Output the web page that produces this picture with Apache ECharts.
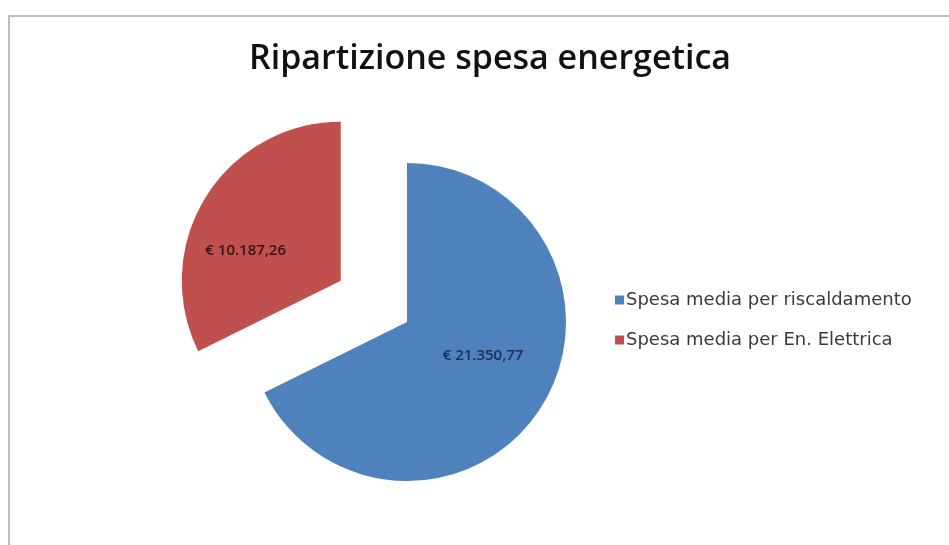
<!DOCTYPE html>
<html>
<head>
<meta charset="utf-8">
<script src="https://cdn.jsdelivr.net/npm/echarts@6/dist/echarts.min.js"></script>
<style>
html,body{margin:0;padding:0;background:#fff;}
#main{width:949px;height:545px;}
</style>
</head>
<body>
<div id="main"></div>
<script>
const titleText = 'Ripartizione spesa energetica';
const categories = ['Spesa media per riscaldamento', 'Spesa media per En. Elettrica'];
const values = [21350.77, 10187.26];
const colors = ['#4F81BD', '#C0504D'];
const labelColors = ['#1c2f52', '#3b1210'];
const labelPads = [[0, 0, 0, 12], [0, 50, 0, 0]];
const explodedIndex = 1;

function fmtEuro(v) {
  const parts = v.toFixed(2).split('.');
  const intPart = parts[0].replace(/\B(?=(\d{3})+(?!\d))/g, '.');
  return '€ ' + intPart + ',' + parts[1];
}

const chart = echarts.init(document.getElementById('main'));
const data = categories.map((c, i) => ({
  name: c,
  value: values[i],
  selected: i === explodedIndex,
  itemStyle: { color: colors[i] },
  select: { itemStyle: { color: colors[i] } },
  label: {
    color: labelColors[i],
    padding: labelPads[i],
    lineHeight: i === 0 ? 20 : 26,
    formatter: p => (i === 0 ? fmtEuro(p.value) + '\n ' : ' \n' + fmtEuro(p.value))
  }
}));

chart.setOption({
  animation: false,
  backgroundColor: '#fff',
  graphic: [{
    type: 'rect',
    shape: { x: 9, y: 16, width: 1000, height: 600 },
    style: { fill: 'none', stroke: '#bdbdbd', lineWidth: 2 },
    silent: true
  }],
  title: {
    text: titleText,
    left: 485,
    textAlign: 'center',
    top: 37,
    textStyle: { fontFamily: 'Open Sans', fontSize: 34, fontWeight: 600, color: '#111' }
  },
  legend: {
    orient: 'vertical',
    left: 610,
    top: 286,
    itemWidth: 9,
    itemHeight: 9,
    itemGap: 22,
    icon: 'rect',
    data: categories,
    textStyle: { fontFamily: 'DejaVu Sans', fontSize: 18, color: '#3a3a3a', padding: [0, 0, 0, -3] }
  },
  series: [{
    type: 'pie',
    center: [407, 322],
    radius: [0, 159],
    startAngle: 90,
    clockwise: true,
    selectedMode: 'single',
    selectedOffset: 78,
    avoidLabelOverlap: false,
    emphasis: { disabled: true },
    label: {
      show: true,
      position: 'inside',
      fontFamily: 'Open Sans',
      fontSize: 15,
      fontWeight: 600
    },
    labelLine: { show: false },
    itemStyle: { borderWidth: 0 },
    data: data
  }]
});
</script>
</body>
</html>
